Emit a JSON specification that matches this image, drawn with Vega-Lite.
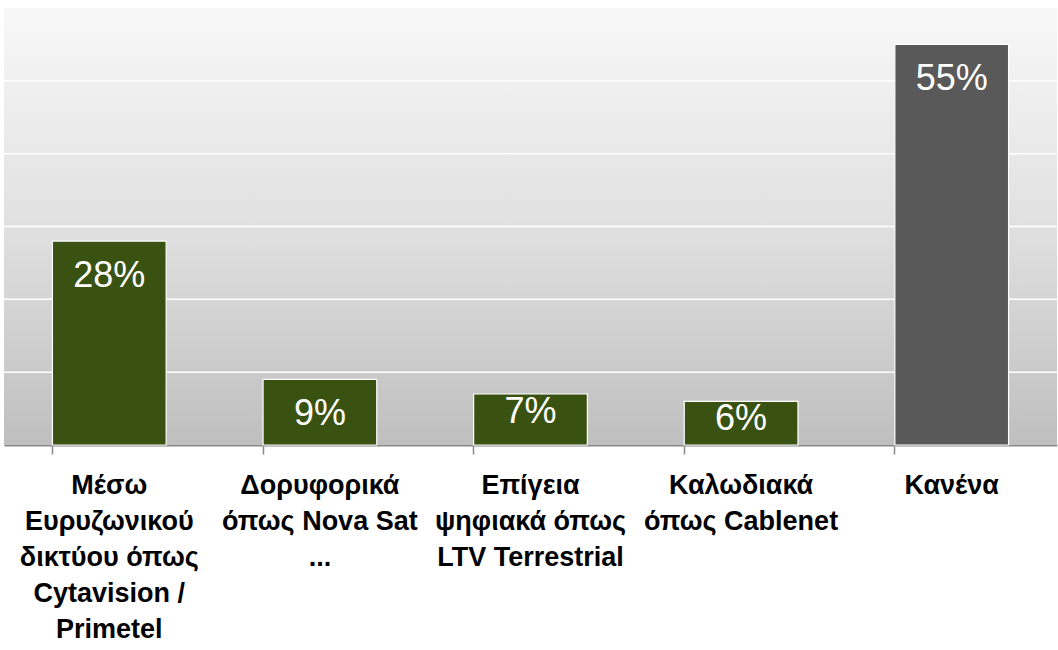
{
  "$schema": "https://vega.github.io/schema/vega-lite/v6.json",
  "autosize": {"type": "none"},
  "width": 1053,
  "height": 437,
  "padding": {"left": 4, "top": 8, "right": 1, "bottom": 205},
  "background": "white",
  "config": {"view": {"stroke": null}},
  "datasets": {
    "grid": [{"g": 0.1}, {"g": 0.2}, {"g": 0.3}, {"g": 0.4}, {"g": 0.5}]
  },
  "data": {
    "values": [
      {"category": "Μέσω|Ευρυζωνικού|δικτύου όπως|Cytavision /|Primetel", "value": 0.28, "group": "yes"},
      {"category": "Δορυφορικά|όπως Nova Sat|...", "value": 0.09, "group": "yes"},
      {"category": "Επίγεια|ψηφιακά όπως|LTV Terrestrial", "value": 0.07, "group": "yes"},
      {"category": "Καλωδιακά|όπως Cablenet", "value": 0.06, "group": "yes"},
      {"category": "Κανένα", "value": 0.55, "group": "none"}
    ]
  },
  "layer": [
    {
      "data": {"values": [{}]},
      "mark": {
        "type": "rect",
        "fill": {
          "gradient": "linear",
          "x1": 0, "y1": 0, "x2": 0, "y2": 1,
          "stops": [
            {"offset": 0, "color": "#f8f8f8"},
            {"offset": 0.5, "color": "#e0e0e0"},
            {"offset": 1, "color": "#bfbfbf"}
          ]
        }
      },
      "encoding": {}
    },
    {
      "data": {"name": "grid"},
      "mark": {"type": "rule", "color": "white", "strokeWidth": 1.5},
      "encoding": {
        "y": {"field": "g", "type": "quantitative", "scale": {"domain": [0, 0.6], "nice": false}, "axis": null}
      }
    },
    {
      "mark": {"type": "bar", "stroke": "white", "strokeWidth": 1.2},
      "encoding": {
        "x": {
          "field": "category",
          "type": "nominal",
          "sort": null,
          "scale": {"paddingInner": 0.46, "paddingOuter": 0.23},
          "axis": {
            "title": null,
            "labelAngle": 0,
            "labelExpr": "split(datum.label, '|')",
            "labelFont": "Liberation Sans",
            "labelFontWeight": "bold",
            "labelFontSize": 27,
            "labelColor": "black",
            "labelLineHeight": 36,
            "labelBaseline": "top",
            "labelPadding": 18,
            "labelLimit": 0,
            "bandPosition": 0,
            "tickSize": 9,
            "tickColor": "#8a8a8a",
            "tickWidth": 1.5,
            "domainColor": "#8a8a8a",
            "domainWidth": 2,
            "grid": false
          }
        },
        "y": {
          "field": "value",
          "type": "quantitative",
          "scale": {"domain": [0, 0.6], "nice": false},
          "axis": null
        },
        "color": {
          "field": "group",
          "type": "nominal",
          "scale": {"domain": ["yes", "none"], "range": ["#3a5211", "#595959"]},
          "legend": null
        }
      }
    },
    {
      "transform": [{"filter": "datum.value >= 0.08"}],
      "mark": {"type": "text", "color": "white", "font": "Liberation Sans", "fontSize": 36, "baseline": "middle", "dy": 35},
      "encoding": {
        "x": {"field": "category", "type": "nominal", "sort": null},
        "y": {"field": "value", "type": "quantitative"},
        "text": {"field": "value", "type": "quantitative", "format": ".0%"}
      }
    },
    {
      "transform": [{"filter": "datum.value < 0.08"}],
      "mark": {"type": "text", "color": "white", "font": "Liberation Sans", "fontSize": 36, "baseline": "middle", "dy": 18},
      "encoding": {
        "x": {"field": "category", "type": "nominal", "sort": null},
        "y": {"field": "value", "type": "quantitative"},
        "text": {"field": "value", "type": "quantitative", "format": ".0%"}
      }
    }
  ]
}
